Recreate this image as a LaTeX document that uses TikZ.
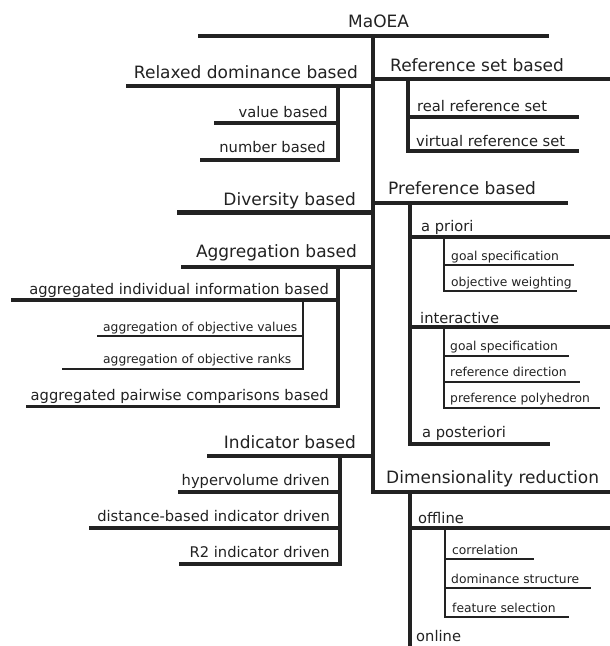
\documentclass[tikz,border=0pt]{standalone}
\usepackage{fontspec}
\setmainfont{DejaVu Sans}
\definecolor{ink}{HTML}{222222}
\begin{document}
\begin{tikzpicture}[x=1pt,y=-1pt,
  line join=miter,
  barA/.style={draw=ink,line width=4.7pt},
  barB/.style={draw=ink,line width=3.3pt},
  barC/.style={draw=ink,line width=2.2pt},
  txtA/.style={text=ink,inner sep=0pt,font=\fontsize{17}{20}\selectfont},
  txtB/.style={text=ink,inner sep=0pt,font=\fontsize{14.7}{17}\selectfont},
  txtC/.style={text=ink,inner sep=0pt,font=\fontsize{12.3}{14}\selectfont},
  lft/.style={anchor=base west},
  rgt/.style={anchor=base east}]
\fill[white] (0,0) rectangle (610,646);
\useasboundingbox (0,0) rectangle (610,646);

% root and trunk
\node[txtA,lft] (root) at (348,27) {MaOEA};
\path[barA] (198,36) -- (549,36);
\path[barA] (373,36) -- (373,492) -- (610,492);

% ---- left branches ----
\node[txtA,rgt] (relaxed) at (358,78) {Relaxed dominance based};
\path[barA] (126,86) -- (373,86);
\node[txtB,rgt] (value) at (328,117) {value based};
\node[txtB,rgt] (number) at (326,152) {number based};
\path[barB] (214,123) -- (338,123);
\path[barB] (338,86) -- (338,160) -- (200,160);

\node[txtA,rgt] (diversity) at (356,205) {Diversity based};
\path[barA] (177,212.5) -- (373,212.5);

\node[txtA,rgt] (aggregation) at (357,257) {Aggregation based};
\path[barA] (181,267) -- (373,267);
\node[txtB,rgt] (aggind) at (329,294) {aggregated individual information based};
\path[barB] (11,300) -- (338,300);
\node[txtC,lft] (aggval) at (103,331) {aggregation of objective values};
\node[txtC,lft] (aggrank) at (103,363) {aggregation of objective ranks};
\path[barC] (97,336) -- (303,336);
\path[barC] (303,300) -- (303,369.3) -- (62,369.3);
\node[txtB,rgt] (aggpair) at (329,400) {aggregated pairwise comparisons based};
\path[barB] (338,267) -- (338,406.3) -- (26,406.3);

\node[txtA,rgt] (indicator) at (356,448) {Indicator based};
\path[barA] (207,456) -- (373,456);
\node[txtB,rgt] (hyper) at (330,485) {hypervolume driven};
\node[txtB,rgt] (distance) at (330,521) {distance-based indicator driven};
\node[txtB,rgt] (rtwo) at (330,557) {R2 indicator driven};
\path[barB] (178,492) -- (340,492);
\path[barB] (89,528) -- (340,528);
\path[barB] (340,456) -- (340,564) -- (179,564);

% ---- right branches ----
\node[txtA,lft] (refset) at (390,71) {Reference set based};
\path[barA] (373,79) -- (610,79);
\node[txtB,lft] (realref) at (417,111) {real reference set};
\node[txtB,lft] (virtref) at (416,146) {virtual reference set};
\path[barB] (408,117) -- (579,117);
\path[barB] (408,79) -- (408,151) -- (579,151);

\node[txtA,lft] (preference) at (388,194) {Preference based};
\path[barA] (373,203) -- (568,203);
\node[txtB,lft] (apriori) at (421,231) {a priori};
\path[barB] (410,237) -- (610,237);
\node[txtC,lft] (goalA) at (451,260) {goal specification};
\node[txtC,lft] (weight) at (451,286) {objective weighting};
\path[barC] (444,265) -- (574,265);
\path[barC] (444,237) -- (444,291) -- (577,291);
\node[txtB,lft] (interactive) at (420,323) {interactive};
\path[barB] (410,327) -- (610,327);
\node[txtC,lft] (goalB) at (450,350) {goal specification};
\node[txtC,lft] (refdir) at (450,376) {reference direction};
\node[txtC,lft] (polyh) at (450,402) {preference polyhedron};
\path[barC] (444,356) -- (569,356);
\path[barC] (444,382) -- (580,382);
\path[barC] (444,327) -- (444,408) -- (600,408);
\node[txtB,lft] (aposteriori) at (422,437) {a posteriori};
\path[barB] (410,203) -- (410,444) -- (550,444);

\node[txtA,lft] (dimred) at (386,483) {Dimensionality reduction};
\node[txtB,lft] (offline) at (418,523) {offline};
\path[barB] (410,528) -- (610,528);
\node[txtC,lft] (corr) at (452,554) {correlation};
\node[txtC,lft] (domstruct) at (451,583) {dominance structure};
\node[txtC,lft] (featsel) at (452,612) {feature selection};
\path[barC] (445,559) -- (534,559);
\path[barC] (445,588) -- (591,588);
\path[barC] (445,528) -- (445,617) -- (569,617);
\node[txtB,lft] (online) at (416,641) {online};
\path[barB] (410,492) -- (410,646);
\end{tikzpicture}
\end{document}
